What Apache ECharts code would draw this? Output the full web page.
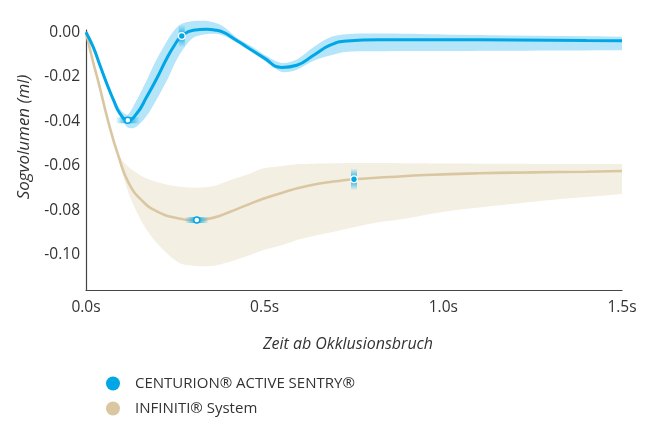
<!DOCTYPE html>
<html>
<head>
<meta charset="utf-8">
<script src="https://cdn.jsdelivr.net/npm/echarts@6/dist/echarts.min.js"></script>
<style>
html,body{margin:0;padding:0;background:#fff;}
#chart{width:645px;height:437px;}
</style>
</head>
<body>
<div id="chart"></div>
<script>
// ---- Data ----
const seriesNames = ['CENTURION® ACTIVE SENTRY®', 'INFINITI® System'];

// CENTURION mean curve
const blueTime  = [0, 0.02, 0.039, 0.058, 0.077, 0.095, 0.117, 0.142, 0.17, 0.198, 0.226, 0.249, 0.268, 0.30, 0.338, 0.36, 0.385, 0.413, 0.45, 0.497, 0.548, 0.59, 0.637, 0.683, 0.73, 0.82, 1.0, 1.2, 1.4, 1.5];
const blueValue = [0, -0.0066, -0.0148, -0.023, -0.0305, -0.0365, -0.0395, -0.0365, -0.029, -0.0208, -0.0118, -0.0055, -0.0017, 0.0009, 0.0013, 0.0010, -0.0001, -0.0028, -0.0066, -0.0114, -0.0158, -0.0148, -0.0103, -0.0058, -0.0039, -0.0034, -0.0034, -0.0035, -0.0037, -0.0038];

// CENTURION band
const blueBandTime = [0, 0.04, 0.08, 0.10, 0.117, 0.14, 0.17, 0.20, 0.23, 0.25, 0.268, 0.30, 0.34, 0.38, 0.42, 0.46, 0.50, 0.548, 0.59, 0.637, 0.683, 0.73, 0.82, 1.0, 1.2, 1.5];
const blueBandLow  = [0, -0.0155, -0.0322, -0.039, -0.0428, -0.0425, -0.0375, -0.0295, -0.0205, -0.0135, -0.0085, -0.0025, -0.0008, -0.0012, -0.0045, -0.0085, -0.0128, -0.0178, -0.0168, -0.0128, -0.0105, -0.0088, -0.0085, -0.0084, -0.0083, -0.0081];
const blueBandHigh = [0.0005, -0.0142, -0.030, -0.0355, -0.037, -0.031, -0.0215, -0.0115, -0.003, 0.0015, 0.0038, 0.005, 0.005, 0.003, -0.0022, -0.006, -0.0102, -0.0138, -0.0122, -0.0066, -0.0022, -0.0009, -0.0006, -0.001, -0.0015, -0.002];

// INFINITI mean curve
const beigeTime  = [0, 0.02, 0.035, 0.0625, 0.09, 0.12, 0.16, 0.20, 0.25, 0.31, 0.36, 0.40, 0.45, 0.50, 0.55, 0.60, 0.65, 0.70, 0.75, 0.85, 0.95, 1.10, 1.25, 1.40, 1.50];
const beigeValue = [0, -0.0135, -0.0225, -0.0402, -0.0552, -0.0678, -0.0761, -0.0805, -0.0833, -0.0843, -0.0831, -0.0808, -0.0776, -0.0745, -0.072, -0.0697, -0.068, -0.0669, -0.066, -0.065, -0.0641, -0.0633, -0.0629, -0.0626, -0.0623];

// INFINITI band
const beigeBandTime = [0, 0.035, 0.0625, 0.09, 0.123, 0.17, 0.217, 0.263, 0.31, 0.357, 0.403, 0.45, 0.497, 0.55, 0.6, 0.7, 0.8, 0.9, 1.0, 1.15, 1.3, 1.5];
const beigeBandLow  = [0, -0.0225, -0.0402, -0.056, -0.0738, -0.0888, -0.0978, -0.1037, -0.105, -0.1048, -0.103, -0.1006, -0.0978, -0.0955, -0.0928, -0.0893, -0.0858, -0.0835, -0.0806, -0.0778, -0.0753, -0.0726];
const beigeBandHigh = [0, -0.0225, -0.0402, -0.0548, -0.061, -0.0656, -0.068, -0.0694, -0.0698, -0.069, -0.0664, -0.064, -0.0611, -0.060, -0.0592, -0.0588, -0.0587, -0.0588, -0.0589, -0.059, -0.0591, -0.0592];

// highlighted points
const markerTime  = [0.117, 0.268, 0.31, 0.75];
const markerValue = [-0.0395, -0.0017, -0.0843, -0.066];
const markerGlow  = ['h', 'v', 'h', 'v'];
const markerFill  = ['white', 'blue', 'white', 'blue'];

// axis ticks
const yTicks = [0, -0.02, -0.04, -0.06, -0.08, -0.10];
const xTicks = [0, 0.5, 1.0, 1.5];

// ---- Styling ----
const BLUE = '#00a6e6';
const BLUE_BAND = '#b4e5f8';
const BEIGE = '#dac7a2';
const BEIGE_BAND = '#f4efe3';
const TEXT = '#333333';
const FONT = '"Open Sans", sans-serif';

function zip(xs, ys) { return xs.map((x, i) => [x, ys[i]]); }

const chart = echarts.init(document.getElementById('chart'), null, {renderer: 'canvas'});

function bandSeries(name, times, low, high, color, z) {
  return {
    name: name, type: 'custom', z: z, clip: false, silent: true,
    data: times.map((t, i) => [t, low[i], high[i]]),
    encode: {x: 0, y: [1, 2]},
    renderItem: function (params, api) {
      if (params.dataIndex !== 0) return null;
      const upper = [], lower = [];
      for (let i = 0; i < times.length; i++) {
        upper.push(api.coord([times[i], high[i]]));
        lower.push(api.coord([times[i], low[i]]));
      }
      lower.reverse();
      // duplicate end points so the band keeps square ends
      const pts = upper.concat([upper[upper.length - 1]], [lower[0]], lower, [lower[lower.length - 1]]);
      return {
        type: 'polygon',
        shape: {points: pts, smooth: 0.3},
        style: {fill: color, stroke: null}
      };
    }
  };
}

const option = {
  animation: false,
  backgroundColor: '#ffffff',
  textStyle: {fontFamily: FONT},
  grid: {left: 86, right: 23, top: 30, bottom: 147, containLabel: false},
  legend: {
    data: [
      {name: seriesNames[0], itemStyle: {color: BLUE}},
      {name: seriesNames[1], itemStyle: {color: BEIGE}}
    ],
    orient: 'vertical',
    left: 101, top: 371,
    icon: 'circle',
    itemWidth: 34, itemHeight: 14, itemGap: 10,
    textStyle: {color: TEXT, fontSize: 15, fontFamily: FONT}
  },
  xAxis: {
    type: 'value', min: 0, max: 1.5, interval: 0.5,
    name: 'Zeit ab Okklusionsbruch', nameLocation: 'middle', nameGap: 46,
    nameTextStyle: {fontStyle: 'italic', fontSize: 16, color: TEXT, fontFamily: FONT, padding: [0, 12, 0, 0]},
    axisLine: {show: true, onZero: false, lineStyle: {color: '#444', width: 1.2}},
    axisTick: {show: false},
    splitLine: {show: false},
    axisLabel: {color: TEXT, fontSize: 15.5, margin: 10, fontFamily: FONT,
      customValues: xTicks, formatter: v => v.toFixed(1) + 's'}
  },
  yAxis: {
    type: 'value', min: -0.1157, max: 0.001,
    name: 'Sogvolumen (ml)', nameLocation: 'middle', nameGap: 53,
    nameTextStyle: {fontStyle: 'italic', fontSize: 17, color: TEXT, fontFamily: FONT, padding: [0, 0, 0, 46]},
    axisLine: {show: true, onZero: false, lineStyle: {color: '#444', width: 1.2}},
    axisTick: {show: false},
    splitLine: {show: false},
    axisLabel: {color: TEXT, fontSize: 15.5, margin: 6, fontFamily: FONT,
      customValues: yTicks, formatter: v => v.toFixed(2)}
  },
  series: [
    bandSeries('beigeBand', beigeBandTime, beigeBandLow, beigeBandHigh, BEIGE_BAND, 1),
    {
      name: seriesNames[1], type: 'line', data: zip(beigeTime, beigeValue),
      smooth: 0.5, symbol: 'none', clip: false,
      lineStyle: {color: BEIGE, width: 2.6}, itemStyle: {color: BEIGE}, z: 3
    },
    bandSeries('blueBand', blueBandTime, blueBandLow, blueBandHigh, BLUE_BAND, 4),
    {
      name: seriesNames[0], type: 'line', data: zip(blueTime, blueValue),
      smooth: 0.5, symbol: 'none', clip: false,
      lineStyle: {color: BLUE, width: 3}, itemStyle: {color: BLUE}, z: 5
    },
    {
      name: 'markers', type: 'custom', z: 10, clip: false, silent: true,
      data: zip(markerTime, markerValue),
      renderItem: function (params, api) {
        const i = params.dataIndex;
        const p = api.coord([api.value(0), api.value(1)]);
        const vertical = markerGlow[i] === 'v';
        const stops = [
          {offset: 0, color: 'rgba(0,166,230,0)'},
          {offset: 0.5, color: 'rgba(0,166,230,0.95)'},
          {offset: 1, color: 'rgba(0,166,230,0)'}
        ];
        const glow = vertical ? {
          type: 'rect', shape: {x: p[0] - 3, y: p[1] - 11, width: 6, height: 22},
          style: {fill: {type: 'linear', x: 0, y: 0, x2: 0, y2: 1, colorStops: stops}}
        } : {
          type: 'rect', shape: {x: p[0] - 12, y: p[1] - 3, width: 24, height: 6},
          style: {fill: {type: 'linear', x: 0, y: 0, x2: 1, y2: 0, colorStops: stops}}
        };
        const dot = markerFill[i] === 'white' ? {
          type: 'circle', shape: {cx: p[0], cy: p[1], r: 3},
          style: {fill: '#ffffff', stroke: BLUE, lineWidth: 1.5}
        } : {
          type: 'circle', shape: {cx: p[0], cy: p[1], r: 3.3},
          style: {fill: BLUE, stroke: '#ffffff', lineWidth: 1.2}
        };
        return {type: 'group', children: [glow, dot]};
      }
    }
  ]
};
chart.setOption(option);
</script>
</body>
</html>
